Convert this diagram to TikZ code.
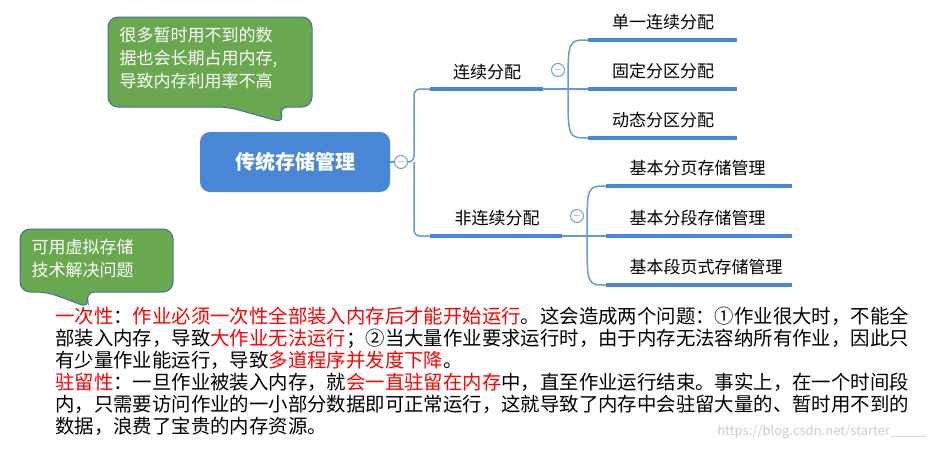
\documentclass[tikz,border=0pt]{standalone}
\usepackage{fontspec}
\setmainfont{Noto Sans CJK SC}
\usetikzlibrary{positioning}
\definecolor{mapblue}{HTML}{4A86D6}
\definecolor{notegreen}{HTML}{6AA84F}
\definecolor{noteedge}{HTML}{41719C}
\tikzset{
    root/.style = {
        fill = mapblue, rounded corners=10pt, minimum width=190pt, minimum height=60pt,
        text = white, font=\fontsize{20}{24}\selectfont\bfseries,
        },
    topic/.style = {
        font=\fontsize{17}{20}\selectfont,
        },
    bar/.style = {
        draw=mapblue, line width=4pt,
        },
    link/.style = {
        draw=mapblue!85, line width=1.5pt,
        },
    fold/.style = {
        circle, draw=mapblue!80, fill=white, line width=1pt, minimum size=13pt, inner sep=0pt,
        font=\fontsize{10}{10}\selectfont, text=violet!70, 
        },
    note/.style = {
        fill = notegreen, draw=noteedge, line width=1pt, rounded corners=10pt,
        },
    notetext/.style = {
        text=white, align=left, font=\fontsize{17}{23}\selectfont,
        },
    hot/.style = {
        text=red,
    },
}
\begin{document}
\begin{tikzpicture}[x=1pt,y=-1pt]
    \useasboundingbox (0,0) rectangle (936,450);
    % callouts
    \draw[note] (108,17) -- (312,17) -- (312,107) -- (278,107) -- (285,123) -- (228,107) -- (108,107) -- cycle;
    \node[notetext, anchor=north west] (n1) at (116,24) {很多暂时用不到的数\\据也会长期占用内存,\\导致内存利用率不高};
    \draw[note] (20,229) -- (173,229) -- (173,292) -- (85,292) -- (90,308) -- (47,292) -- (20,292) -- cycle;
    \node[notetext, anchor=north west] (n2) at (28,236) {可用虚拟存储\\技术解决问题};

    % root
    \node[root] (rt) at (295,162) {传统存储管理};
    \node[fold] (f0) at (401,162) {$-$};
    \coordinate (j0) at (414,162);
    \draw[link] (rt.east) -- (f0);
    \draw[link, rounded corners=6pt] (f0) -- (j0) |- (430,89);
    \draw[link, rounded corners=6pt] (j0) |- (430,236);

    % first branch
    \coordinate (a0) at (430,89); \coordinate (a1) at (543,89);
    \draw[bar] (a0) -- (a1);
    \node[topic] (ta) at (487,72) {连续分配};
    \node[fold] (fa) at (558,70) {$-$};
    \coordinate (ja) at (568,89);
    \draw[link] (a1) -- (588,89);
    \foreach \y/\t [count=\i] in {40/单一连续分配, 89/固定分区分配, 138/动态分区分配} {
        \draw[bar] (588,\y) -- (737,\y);
        \node[topic] (ca\i) at (663,\y-18) {\t};
        \draw[link] (ja) .. controls (568,\y) .. (588,\y);
    }

    % second branch
    \coordinate (b0) at (430,236); \coordinate (b1) at (562,236);
    \draw[bar] (b0) -- (b1);
    \node[topic] (tb) at (497,218) {非连续分配};
    \node[fold] (fb) at (577,216) {$-$};
    \coordinate (jb) at (587,236);
    \draw[link] (b1) -- (606,236);
    \foreach \y/\t [count=\i] in {186/基本分页存储管理, 236/基本分段存储管理, 285/基本段页式存储管理} {
        \draw[bar] (606,\y) -- (792,\y);
        \node[topic, anchor=west] (cb\i) at (626,\y-18) {\t};
        \draw[link] (jb) .. controls (587,\y) .. (606,\y);
    }

    % explanation
    \node[anchor=north west, align=left, inner sep=0pt, font=\fontsize{19.4}{22}\selectfont] (txt) at (55,307) {%
    \textcolor{red}{一次性}：\textcolor{red}{作业必须一次性全部装入内存后才能开始运行}。这会造成两个问题：①作业很大时，不能全\\
    部装入内存，导致\textcolor{red}{大作业无法运行}；②当大量作业要求运行时，由于内存无法容纳所有作业，因此只\\
    有少量作业能运行，导致\textcolor{red}{多道程序并发度下降}。\\
    \textcolor{red}{驻留性}：一旦作业被装入内存，就\textcolor{red}{会一直驻留在内存}中，直至作业运行结束。事实上，在一个时间段\\
    内，只需要访问作业的一小部分数据即可正常运行，这就导致了内存中会驻留大量的、暂时用不到的\\
    数据，浪费了宝贵的内存资源。};
    \node[anchor=east, text=gray!40, font=\fontsize{13}{13}\selectfont] (wm) at (930,432) {https://blog.csdn.net/starter\_\_\_\_\_};
\end{tikzpicture}
\end{document}
